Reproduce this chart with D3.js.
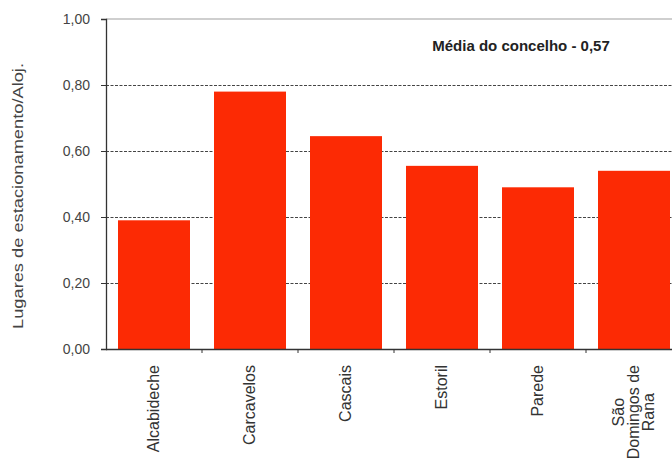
<!DOCTYPE html>
<html>
<head>
<meta charset="utf-8">
<script src="https://cdn.jsdelivr.net/npm/d3@7"></script>
<style>
  body { margin: 0; background: #fff; }
  svg { display: block; font-family: "Liberation Sans", Arial, sans-serif; }
</style>
</head>
<body>
<svg></svg>
<script>
// parking places per dwelling, by parish
var freguesias = ["Alcabideche", "Carcavelos", "Cascais", "Estoril", "Parede", "São\nDomingos de\nRana"];
var lugares = [0.39, 0.78, 0.645, 0.555, 0.49, 0.54];
var yTicks = [0, 0.2, 0.4, 0.6, 0.8, 1.0];
var mediaConcelho = 0.57;

var width = 672;
var height = 469;
var padLeft = 106;
var padTop = 19;
var baseY = 349;

var svg = d3.select("svg").attr("width", width).attr("height", height);

var fmt = function (v) {
  return d3.format(".2f")(v).replace(".", ",");
};

/* scales */
var xScale = d3
  .scaleBand()
  .domain(freguesias)
  .range([padLeft, padLeft + 96 * freguesias.length])
  .paddingInner(0.25)
  .paddingOuter(0.125);

var yScale = d3.scaleLinear().domain([0, 1]).range([baseY, padTop]);

/* frame line on top */
svg
  .append("line")
  .attr("x1", padLeft)
  .attr("x2", width)
  .attr("y1", yScale(1))
  .attr("y2", yScale(1))
  .attr("stroke", "#a0a0a0")
  .attr("stroke-width", 1.2);

/* dashed gridlines */
svg
  .append("g")
  .selectAll("line")
  .data(yTicks.filter((d) => d > 0 && d < 1))
  .enter()
  .append("line")
  .attr("x1", padLeft)
  .attr("x2", width)
  .attr("y1", (d) => Math.round(yScale(d)) + 0.5)
  .attr("y2", (d) => Math.round(yScale(d)) + 0.5)
  .attr("stroke", "#444")
  .attr("stroke-width", 1)
  .attr("stroke-dasharray", "3,1.5");

/* bars */
svg
  .selectAll("rect.bar")
  .data(lugares)
  .enter()
  .append("rect")
  .attr("class", "bar")
  .attr("x", (d, i) => xScale(freguesias[i]))
  .attr("width", xScale.bandwidth())
  .attr("y", (d) => yScale(d))
  .attr("height", (d) => baseY - yScale(d))
  .attr("fill", "#fc2a04");

/* y axis */
var yAxis = d3
  .axisLeft(yScale)
  .tickValues(yTicks)
  .tickFormat(fmt)
  .tickSize(5)
  .tickPadding(11);
var gy = svg
  .append("g")
  .attr("transform", "translate(" + padLeft + ",0)")
  .call(yAxis);
gy.select(".domain").attr("stroke", "#333").attr("stroke-width", 1.3);
gy.selectAll(".tick line").attr("stroke", "#333");
gy.selectAll(".tick text")
  .attr("fill", "#444")
  .style("font-size", "14px")
  .style("font-family", "Liberation Sans, Arial, sans-serif");

/* x axis: ticks sit between the categories */
var xAxisLine = svg.append("g");
xAxisLine
  .append("line")
  .attr("x1", padLeft)
  .attr("x2", width)
  .attr("y1", baseY + 0.5)
  .attr("y2", baseY + 0.5)
  .attr("stroke", "#333")
  .attr("stroke-width", 1.3);
xAxisLine
  .selectAll("line.sep")
  .data(freguesias.slice(1))
  .enter()
  .append("line")
  .attr("class", "sep")
  .attr("x1", (d) => xScale(d) - xScale.step() * 0.125)
  .attr("x2", (d) => xScale(d) - xScale.step() * 0.125)
  .attr("y1", baseY)
  .attr("y2", baseY + 4)
  .attr("stroke", "#333");

/* rotated category labels */
var labels = svg
  .selectAll("g.lbl")
  .data(freguesias)
  .enter()
  .append("g")
  .attr("class", "lbl")
  .attr("transform", (d) => "translate(" + (xScale(d) + xScale.bandwidth() / 2) + "," + 365 + ") rotate(-90)");

labels.each(function (d) {
  var g = d3.select(this);
  var lines = d.split("\n");
  var lh = 15;
  var texts = g
    .selectAll("text")
    .data(lines)
    .enter()
    .append("text")
    .attr("fill", "#333")
    .style("font-size", "16px")
    .attr("text-anchor", "middle")
    .attr("y", (l, i) => 5 + (i - (lines.length - 1) / 2) * lh)
    .text((l) => l);
  var maxW = 0;
  texts.each(function () {
    maxW = Math.max(maxW, this.getComputedTextLength());
  });
  texts.attr("x", -maxW / 2);
});

/* y axis title */
svg
  .append("text")
  .attr("transform", "translate(23," + 196 + ") rotate(-90)")
  .attr("text-anchor", "middle")
  .attr("fill", "#444")
  .style("font-size", "14.5px")
  .attr("textLength", 266)
  .attr("lengthAdjust", "spacingAndGlyphs")
  .text("Lugares de estacionamento/Aloj.");

/* county mean note */
svg
  .append("text")
  .attr("x", 521)
  .attr("y", 51)
  .attr("text-anchor", "middle")
  .attr("fill", "#222")
  .style("font-size", "15px")
  .style("font-weight", "bold")
  .text("Média do concelho - " + fmt(mediaConcelho));
</script>
</body>
</html>
